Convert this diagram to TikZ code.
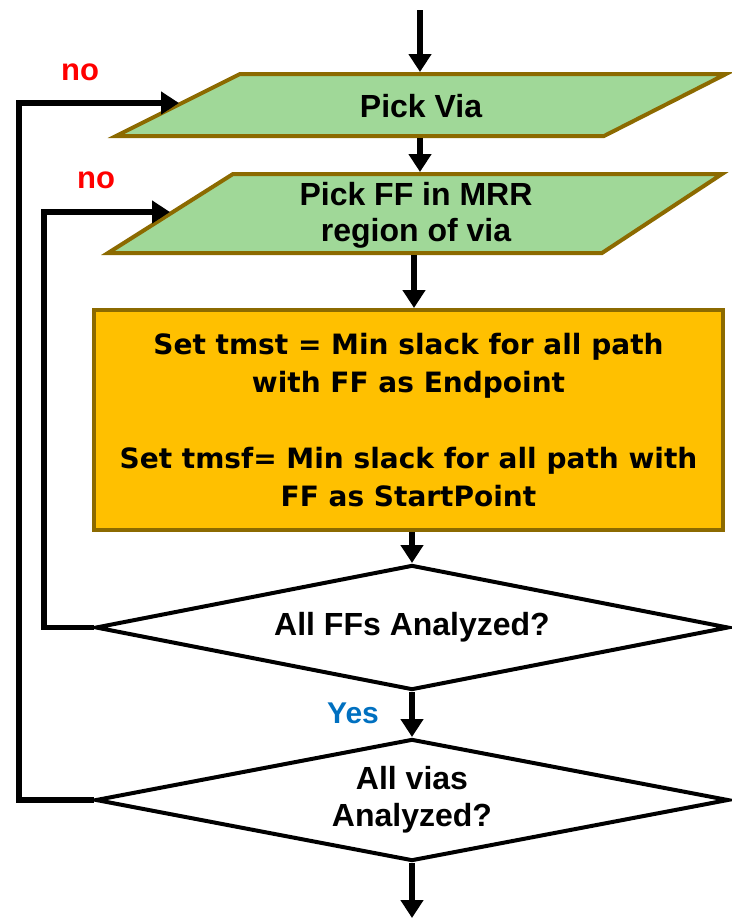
\documentclass[tikz,border=0pt]{standalone}
\usepackage{fontspec}
\setmainfont{Liberation Sans}
\newfontfamily\boxfont{DejaVu Sans}
\usetikzlibrary{arrows.meta,shapes.geometric}
\definecolor{parafill}{HTML}{A0D898}
\definecolor{edgebrown}{HTML}{8C6A00}
\definecolor{stepfill}{HTML}{FFC000}
\definecolor{nored}{HTML}{FF0000}
\definecolor{yesblue}{HTML}{0070C0}
\begin{document}
\begin{tikzpicture}[x=1pt,y=-1pt,
  flow/.style={line width=5.5pt,-{Triangle[length=18pt,width=22pt]}},
  iobox/.style={draw=edgebrown,fill=parafill,line width=4pt,line join=miter},
  iotext/.style={font=\fontsize{32}{36}\selectfont\bfseries,align=center,inner sep=0pt},
  procbox/.style={draw=edgebrown,fill=stepfill,line width=4pt,
    minimum width=629pt,minimum height=220pt,inner sep=0pt,
    font=\boxfont\fontsize{28}{38}\selectfont\bfseries,align=center},
  decision/.style={diamond,aspect=5,draw=black,fill=white,line width=4pt,inner sep=0pt,
    minimum width=633pt,
    font=\fontsize{32}{37}\selectfont\bfseries,align=center},
  tag/.style={font=\fontsize{31}{36}\selectfont\bfseries,inner sep=0pt}]

\useasboundingbox (0,0) rectangle (731,918);

% input / output boxes
\draw[iobox] (240,74) -- (726,74) -- (604,136) -- (116,136) -- cycle;
\node[iotext] (via) at (421,106) {Pick Via};
\draw[iobox] (233,174) -- (722,174) -- (602,253) -- (108,253) -- cycle;
\node[iotext] (ff) at (416,215) {Pick FF in MRR\\region of via};

% process step
\node[procbox] (slack) at (408.5,420)
  {Set tmst = Min slack for all path\\with FF as Endpoint\\[38pt]
   Set tmsf= Min slack for all path with\\FF as StartPoint};

% decisions
\node[decision,minimum height=125pt] (allff) at (412,627.5) {All FFs Analyzed?};
\node[decision,minimum height=122pt] (allvia) at (412,800) {All vias\\Analyzed?};

% connector end points
\coordinate (start) at (420,10);
\coordinate (viaN) at (420,72);
\coordinate (viaS) at (420,138);
\coordinate (ffN) at (420,172);
\coordinate (ffS) at (414,255);
\coordinate (finish) at (412,918);
\coordinate (viaIn) at (179,103);
\coordinate (ffIn) at (170,212);
\coordinate (innerBend) at (44,212);
\coordinate (outerBend) at (19,103);

% main flow
\draw[flow] (start) -- (viaN);
\draw[flow] (viaS) -- (ffN);
\draw[flow] (ffS) -- (ffS |- slack.north);
\draw[flow] (slack.south -| allff.north) -- (allff.north);
\draw[flow] (allff.south) -- (allvia.north);
\draw[flow] (allvia.south) -- (finish);

% loop-backs
\draw[flow] (allff.west) -| (innerBend) -- (ffIn);
\draw[flow] (allvia.west) -| (outerBend) -- (viaIn);

% branch labels
\node[tag,text=nored] (no1) at (80,72) {no};
\node[tag,text=nored] (no2) at (96,180) {no};
\node[tag,text=yesblue,font=\fontsize{30}{36}\selectfont\bfseries] (yes) at (353,713) {Yes};
\end{tikzpicture}
\end{document}
